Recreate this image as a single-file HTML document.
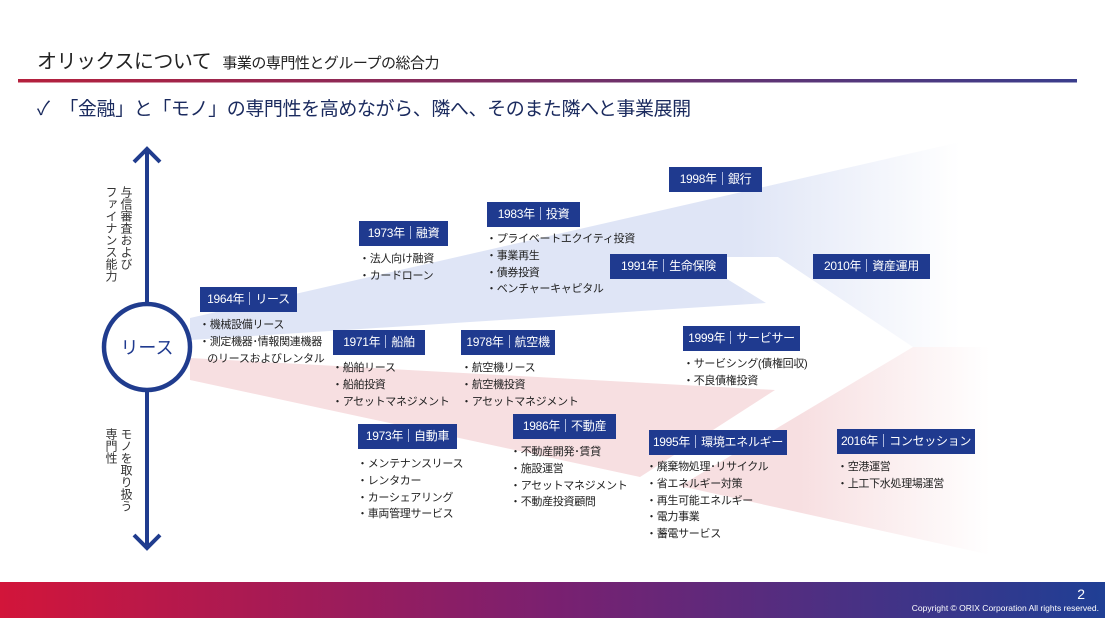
<!DOCTYPE html>
<html><head><meta charset="utf-8"><style>
body{margin:0;width:1105px;height:618px;overflow:hidden;background:#fff;font-family:"Liberation Sans","Noto Sans CJK JP",sans-serif;position:relative;color:#222}
.a{position:absolute;white-space:nowrap}
.b{position:absolute;background:#1f3a8f;color:#fff;font-size:12px;height:25px;line-height:25px;text-align:center;letter-spacing:-0.3px}
.b i{display:inline-block;width:1px;height:13px;background:#aab6dd;margin:0 5px;vertical-align:-2px}
.l{position:absolute;font-size:11px;line-height:16.8px;white-space:nowrap;color:#222;letter-spacing:-0.3px}
.v{position:absolute;writing-mode:vertical-rl;font-size:12px;line-height:14px;color:#333;letter-spacing:0}
</style></head><body>
<svg width="1105" height="618" style="position:absolute;left:0;top:0">
<defs>
<linearGradient id="gb" gradientUnits="userSpaceOnUse" x1="740" y1="0" x2="960" y2="0"><stop offset="0" stop-color="#dfe5f6"/><stop offset="1" stop-color="#dfe5f6" stop-opacity="0"/></linearGradient>
<linearGradient id="gp" gradientUnits="userSpaceOnUse" x1="800" y1="0" x2="990" y2="0"><stop offset="0" stop-color="#f7dfe1"/><stop offset="1" stop-color="#f7dfe1" stop-opacity="0"/></linearGradient>
<linearGradient id="hl" x1="0" x2="1" y1="0" y2="0"><stop offset="0" stop-color="#b5203d"/><stop offset="1" stop-color="#3a3d8c"/></linearGradient>
<linearGradient id="ft" x1="0" x2="1" y1="0" y2="0"><stop offset="0" stop-color="#d2153a"/><stop offset="0.5" stop-color="#7a2070"/><stop offset="1" stop-color="#1f3f95"/></linearGradient>
</defs>
<polygon points="190,318 956,143 1000,143 1000,347 913,347 778,257 727,257 727,279 766,303 190,340" fill="url(#gb)"/>
<polygon points="190,358 775,390 640,477 190,380" fill="#f7dfe1"/>
<polygon points="913,347 1000,347 1000,557 680,486" fill="url(#gp)"/>
<rect x="18" y="79" width="1059" height="3.5" fill="url(#hl)"/>
<rect x="0" y="582" width="1105" height="36" fill="url(#ft)"/>
<line x1="147" y1="152" x2="147" y2="545" stroke="#203c8e" stroke-width="4"/>
<polyline points="134,162 147,149 160,162" fill="none" stroke="#203c8e" stroke-width="4"/>
<polyline points="134,535 147,548 160,535" fill="none" stroke="#203c8e" stroke-width="4"/>
<circle cx="147" cy="347" r="43" fill="#fff" stroke="#203c8e" stroke-width="4.5"/>
<text x="147" y="354" font-size="18" text-anchor="middle" fill="#1f3a8f" font-family="Liberation Sans, Noto Sans CJK JP, sans-serif">リース</text>
</svg>
<div class="a" style="left:37px;top:45px;font-size:20px;color:#222;letter-spacing:-0.5px">オリックスについて <span style="font-size:15px;margin-left:6px">事業の専門性とグループの総合力</span></div>
<div class="a" style="left:37px;top:94px;font-size:19px;color:#1a2a5e;letter-spacing:-0.4px">✓&nbsp;&nbsp;「金融」と「モノ」の専門性を高めながら、隣へ、そのまた隣へと事業展開</div>
<div class="v" style="left:119px;top:186px">与信審査および</div>
<div class="v" style="left:104px;top:186px">ファイナンス能力</div>
<div class="v" style="left:119px;top:428px">モノを取り扱う</div>
<div class="v" style="left:104px;top:428px">専門性</div>

<div class="b" style="left:200px;top:287px;width:97px">1964年<i></i>リース</div>
<div class="l" style="left:199px;top:317px">・機械設備リース<br>・測定機器･情報関連機器<br>&nbsp;&nbsp;&nbsp;のリースおよびレンタル</div>
<div class="b" style="left:359px;top:221px;width:89px">1973年<i></i>融資</div>
<div class="l" style="left:359px;top:251px">・法人向け融資<br>・カードローン</div>
<div class="b" style="left:487px;top:202px;width:93px">1983年<i></i>投資</div>
<div class="l" style="left:486px;top:231px">・プライベートエクイティ投資<br>・事業再生<br>・債券投資<br>・ベンチャーキャピタル</div>
<div class="b" style="left:669px;top:167px;width:93px">1998年<i></i>銀行</div>
<div class="b" style="left:610px;top:254px;width:117px">1991年<i></i>生命保険</div>
<div class="b" style="left:813px;top:254px;width:117px">2010年<i></i>資産運用</div>
<div class="b" style="left:333px;top:330px;width:92px">1971年<i></i>船舶</div>
<div class="l" style="left:332px;top:360px">・船舶リース<br>・船舶投資<br>・アセットマネジメント</div>
<div class="b" style="left:461px;top:330px;width:94px">1978年<i></i>航空機</div>
<div class="l" style="left:461px;top:360px">・航空機リース<br>・航空機投資<br>・アセットマネジメント</div>
<div class="b" style="left:683px;top:326px;width:117px">1999年<i></i>サービサー</div>
<div class="l" style="left:683px;top:356px">・サービシング(債権回収)<br>・不良債権投資</div>
<div class="b" style="left:358px;top:424px;width:99px">1973年<i></i>自動車</div>
<div class="l" style="left:357px;top:456px">・メンテナンスリース<br>・レンタカー<br>・カーシェアリング<br>・車両管理サービス</div>
<div class="b" style="left:513px;top:414px;width:103px">1986年<i></i>不動産</div>
<div class="l" style="left:510px;top:444px">・不動産開発･賃貸<br>・施設運営<br>・アセットマネジメント<br>・不動産投資顧問</div>
<div class="b" style="left:649px;top:430px;width:138px">1995年<i></i>環境エネルギー</div>
<div class="l" style="left:646px;top:459px">・廃棄物処理･リサイクル<br>・省エネルギー対策<br>・再生可能エネルギー<br>・電力事業<br>・蓄電サービス</div>
<div class="b" style="left:837px;top:429px;width:138px">2016年<i></i>コンセッション</div>
<div class="l" style="left:837px;top:459px">・空港運営<br>・上工下水処理場運営</div>

<div class="a" style="right:20px;top:586px;font-size:14px;color:#fff">2</div>
<div class="a" style="right:6px;top:603px;font-size:8.5px;color:#fff">Copyright © ORIX Corporation All rights reserved.</div>
</body></html>
